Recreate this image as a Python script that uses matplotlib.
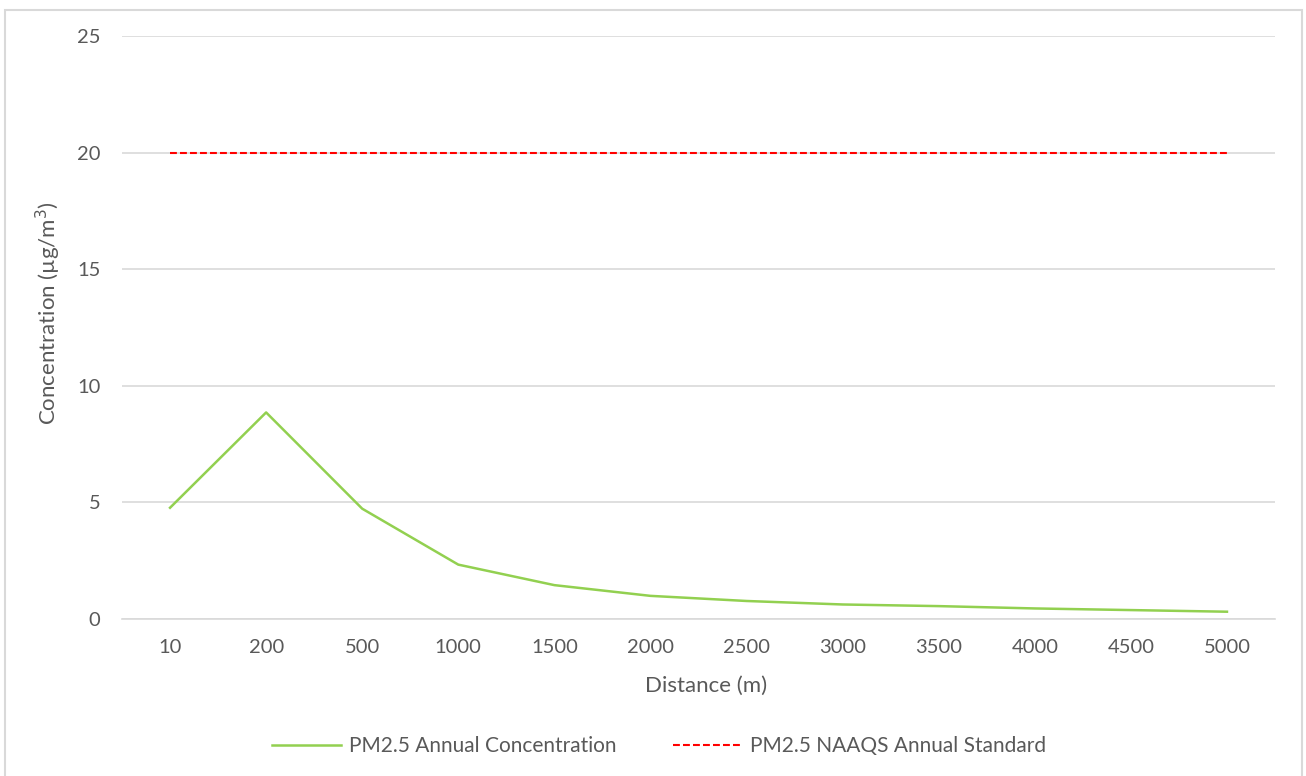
import matplotlib
matplotlib.use("Agg")
import matplotlib.pyplot as plt
from matplotlib.patches import Rectangle

# Receptor distances (m) and modelled annual PM2.5 concentration (µg/m³)
distances = ["10", "200", "500", "1000", "1500", "2000", "2500",
             "3000", "3500", "4000", "4500", "5000"]
pm25_annual = [4.76, 8.85, 4.72, 2.32, 1.44, 0.98, 0.76,
               0.61, 0.54, 0.44, 0.37, 0.30]
naaqs_annual = [20] * len(distances)
y_ticks = [0, 5, 10, 15, 20, 25]

TEXT = "#595959"
GRID = "#D9D9D9"
plt.rcParams["font.family"] = ["Lato", "DejaVu Sans"]

W, H = 1306, 776
fig = plt.figure(figsize=(W / 100, H / 100), dpi=100)

# outer chart frame
fig.patches.append(Rectangle((5 / W, -0.01), (1302 - 5) / W, 1 - 10 / H + 0.01,
                             transform=fig.transFigure, fill=False,
                             edgecolor=GRID, linewidth=1.5))

ax = fig.add_axes([122 / W, 1 - 618.7 / H, (1275 - 122) / W, (618.7 - 36) / H])
x = list(range(len(distances)))

ax.plot(x, pm25_annual, color="#92D050", linewidth=1.8,
        label="PM2.5 Annual Concentration", zorder=3)
ax.plot(x, naaqs_annual, color="#FF0000", linewidth=1.5,
        linestyle=(0, (3.3, 1.5)), label="PM2.5 NAAQS Annual Standard", zorder=3)

ax.set_xlim(-0.5, len(distances) - 0.5)
ax.set_ylim(0, 25)
ax.set_yticks(y_ticks)
ax.set_xticks(x)
ax.set_xticklabels(distances)
ax.yaxis.grid(True, color=GRID, linewidth=1.2)
ax.set_axisbelow(True)
for s in ["top", "right", "left"]:
    ax.spines[s].set_visible(False)
ax.spines["bottom"].set_color(GRID)
ax.spines["bottom"].set_linewidth(1.2)
ax.tick_params(axis="both", length=0, labelsize=14.5, colors=TEXT)
ax.tick_params(axis="y", pad=15.5)
ax.tick_params(axis="x", pad=14.5)

xl = ax.set_xlabel("Distance (m)", fontsize=16, color=TEXT)
xl.set_va("center")
ax.xaxis.set_label_coords(706 / W, 1 - 686 / H, transform=fig.transFigure)
yl = ax.set_ylabel("Concentration (µg/m$^3$)", fontsize=16, color=TEXT)
yl.set_va("center")
ax.yaxis.set_label_coords(48 / W, 1 - 313 / H, transform=fig.transFigure)

leg = fig.legend(loc="center", bbox_to_anchor=(659 / W, 1 - 746 / H), ncol=2,
                 frameon=False, fontsize=15, handlelength=3.3,
                 columnspacing=2.7, handletextpad=0.4)
for t in leg.get_texts():
    t.set_color(TEXT)

fig.savefig("out.png", dpi=100)
